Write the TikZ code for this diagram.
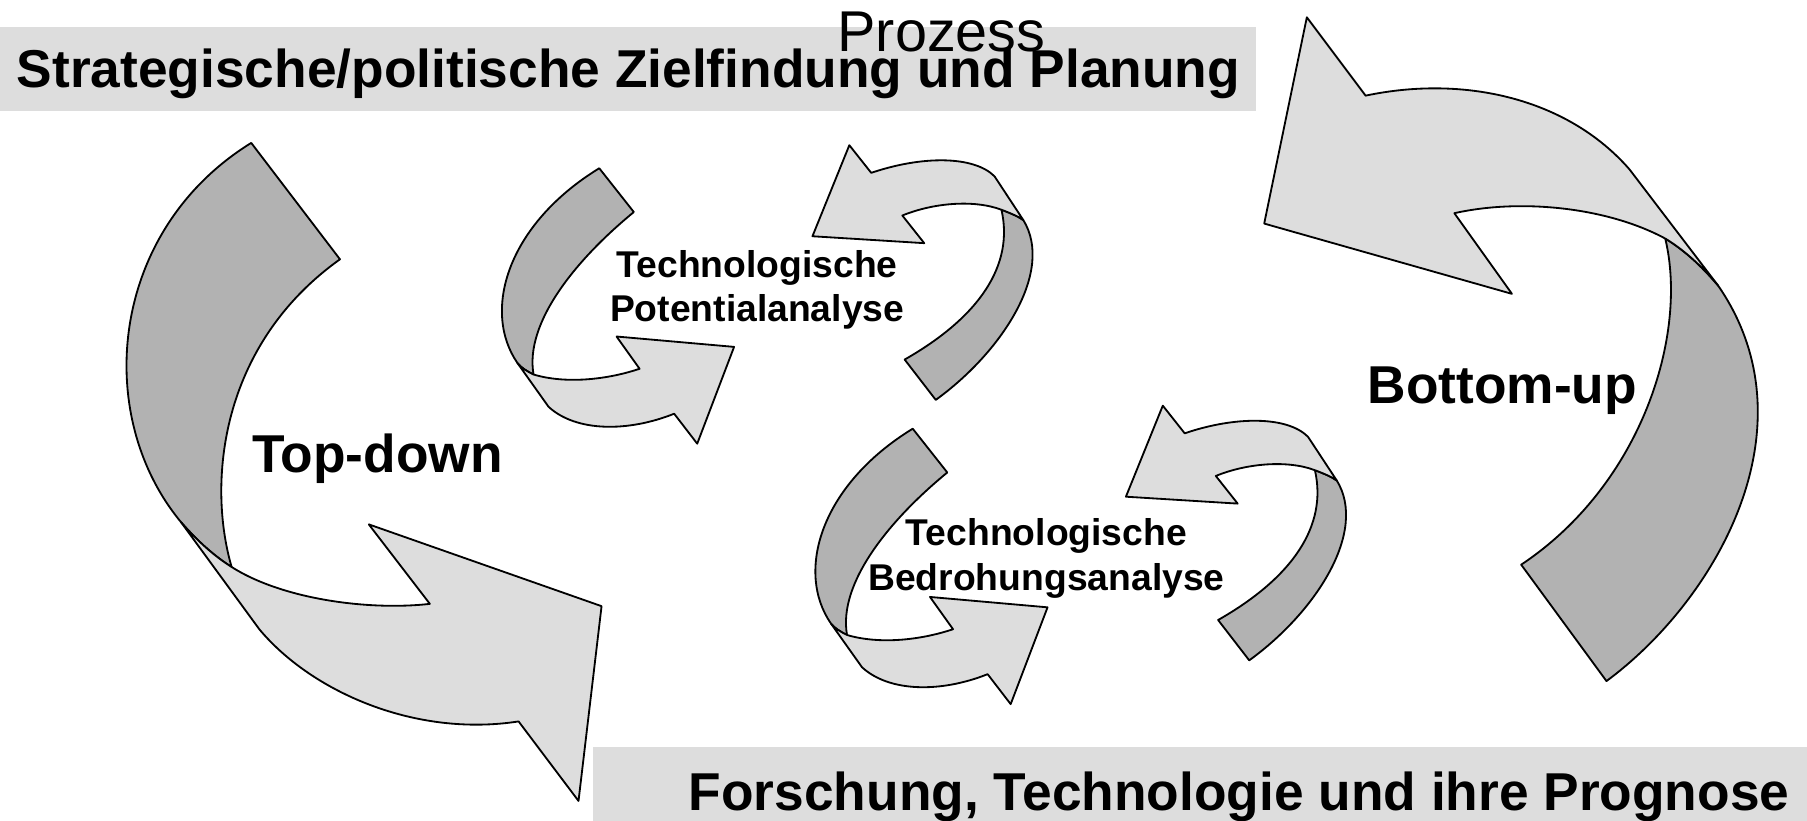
\documentclass[tikz,border=0pt]{standalone}
\usepackage{fontspec}
\setmainfont{Liberation Sans}
\definecolor{lightg}{HTML}{DDDDDD}
\definecolor{darkg}{HTML}{B2B2B2}
\tikzset{
  band/.style={draw=black,line width=0.45pt,line join=round},
  front/.style={band,fill=lightg},
  back/.style={band,fill=darkg},
  barbox/.style={fill=lightg,draw=none},
  txt/.style={inner sep=0pt,anchor=base west},
  bigtxt/.style={txt,font=\bfseries\fontsize{13.15}{15}\selectfont},
  lbltxt/.style={inner sep=0pt,anchor=base,font=\bfseries\fontsize{9.2}{10}\selectfont},
  smallL/.pic={
    \path[back] (520,146) -- (550,184) .. controls (500,225) and (455,280) .. (463,325)
      .. controls (457,322) and (452,319) .. (449,315)
      .. controls (418,270) and (440,195) .. (520,146) -- cycle;
    \path[front] (449,315) -- (476,353) .. controls (500,375) and (545,375) .. (585,359)
      -- (605,385) -- (637,301) -- (535,292) -- (555,320)
      .. controls (525,330) and (490,333) .. (463,325)
      .. controls (457,322) and (452,319) .. (449,315) -- cycle;
  },
  smallR/.pic={
    \path[back] (869,182) .. controls (880,230) and (850,275) .. (785,312) -- (812,347)
      .. controls (870,305) and (915,235) .. (888,191)
      .. controls (884,188) and (877,185) .. (869,182) -- cycle;
    \path[front] (888,191) -- (863,153) .. controls (845,135) and (800,135) .. (756,150)
      -- (737,126) -- (705,205) -- (802,211) -- (783,187)
      .. controls (810,176) and (845,173) .. (869,182)
      .. controls (877,185) and (884,188) .. (888,191) -- cycle;
  }
}
\begin{document}
\begin{tikzpicture}[x=0.01cm,y=-0.01cm]
\useasboundingbox (0,0) rectangle (1568,712);
% bars
\path[barbox] (0,23) rectangle (1090,96);
\path[barbox] (515,648) rectangle (1568,712);

% Top-down arrow
\path[back] (218,124) -- (295,225) .. controls (190,300) and (180,420) .. (201,492)
  .. controls (185,482) and (170,468) .. (157,453)
  .. controls (80,360) and (95,200) .. (218,124) -- cycle;
\path[front] (157,453) -- (225,546) .. controls (270,600) and (360,640) .. (450,626)
  -- (502,695) -- (522,526) -- (320,455) -- (373,524)
  .. controls (320,530) and (245,520) .. (201,492)
  .. controls (185,482) and (170,468) .. (157,453) -- cycle;

% Bottom-up arrow
\path[back] (1445,207) .. controls (1465,290) and (1425,420) .. (1320,490) -- (1394,591)
  .. controls (1490,520) and (1575,370) .. (1491,248)
  .. controls (1476,230) and (1460,216) .. (1445,207) -- cycle;
\path[front] (1491,248) -- (1414,147) .. controls (1360,85) and (1270,65) .. (1185,83)
  -- (1134,15) -- (1097,194) -- (1312,255) -- (1262,185)
  .. controls (1320,172) and (1395,180) .. (1445,207)
  .. controls (1460,216) and (1476,230) .. (1491,248) -- cycle;

% small arrows
\pic at (0,0) {smallL};
\pic at (0,0) {smallR};
\pic at (272,226) {smallL};
\pic at (272,226) {smallR};

% texts
\node[bigtxt] (title) at (14,76) {Strategische/politische Zielfindung und Planung};
\node[txt,font=\fontsize{14.2}{16}\selectfont] (proz) at (726,45) {Prozess};
\node[bigtxt] (bottom) at (597,703) {Forschung, Technologie und ihre Prognose};
\node[bigtxt] (td) at (218,410) {Top-down};
\node[bigtxt] (bu) at (1186,350) {Bottom-up};
\node[lbltxt] (pa1) at (657,241) {Technologische};
\node[lbltxt] (pa2) at (657,279) {Potentialanalyse};
\node[lbltxt] (ba1) at (908,473) {Technologische};
\node[lbltxt] (ba2) at (908,512) {Bedrohungsanalyse};
\end{tikzpicture}
\end{document}
